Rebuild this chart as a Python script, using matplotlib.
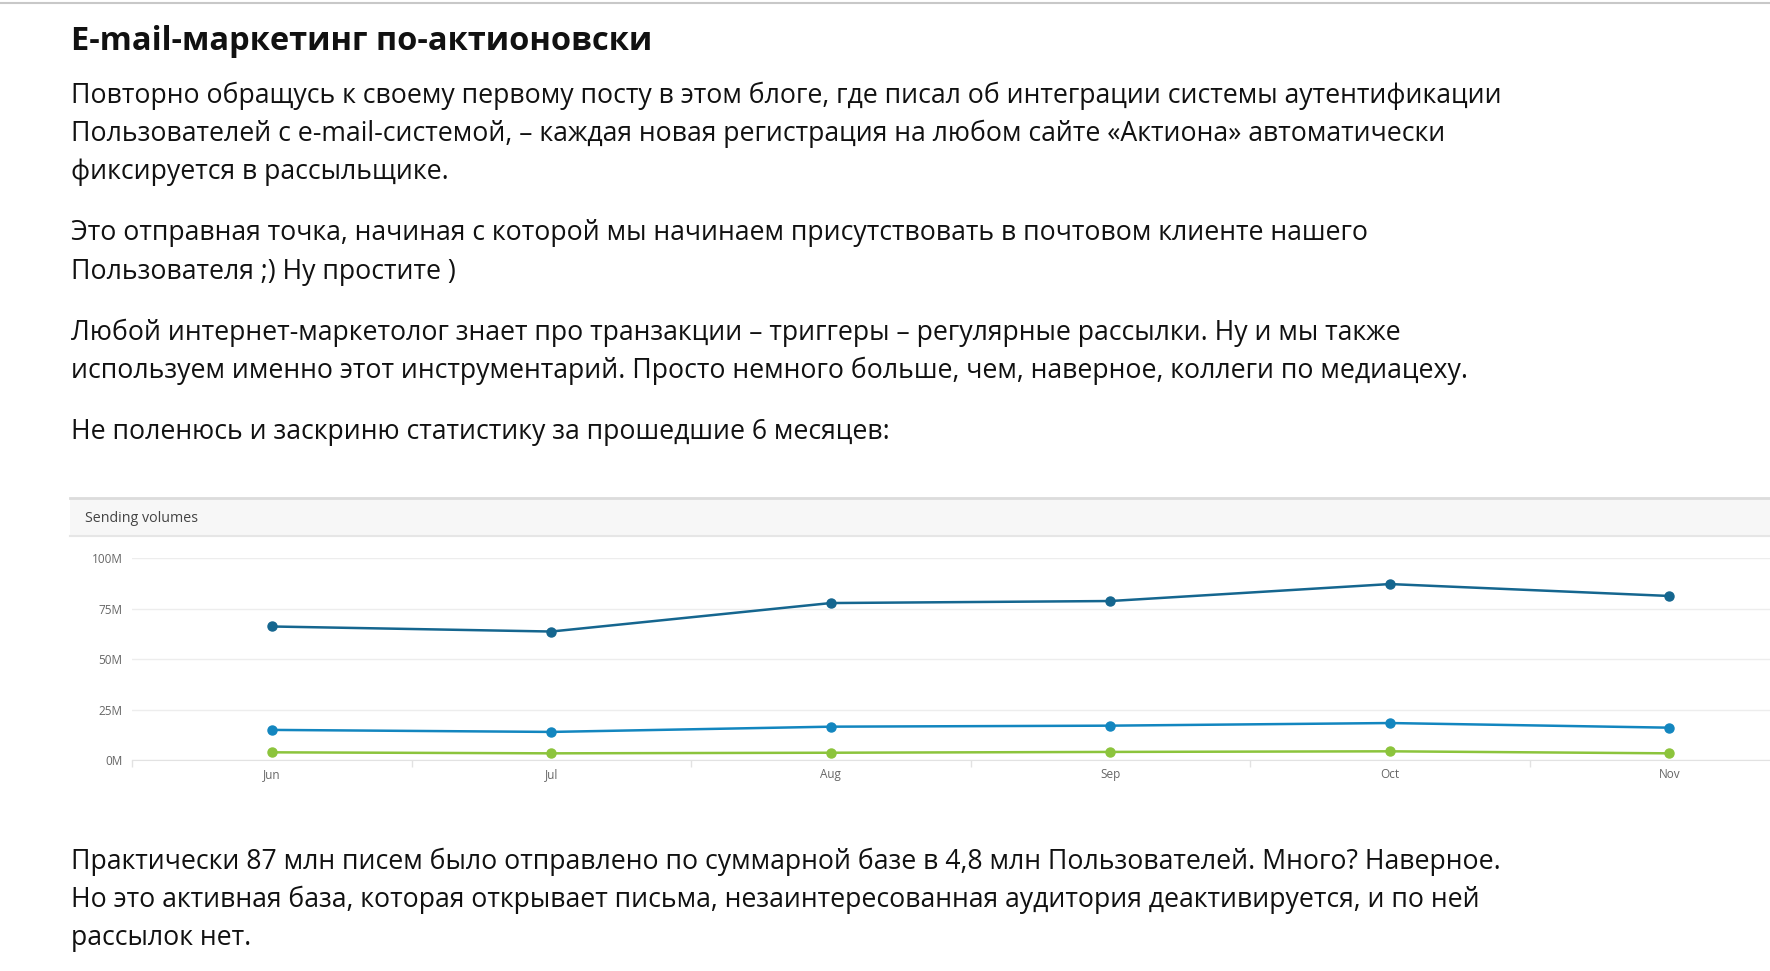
import matplotlib.pyplot as plt
from matplotlib.patches import Rectangle
import numpy as np

# data (millions of emails)
months = ['Jun', 'Jul', 'Aug', 'Sep', 'Oct', 'Nov']
total = [66.1, 63.6, 77.7, 78.7, 87.1, 81.2]
second = [14.9, 13.9, 16.5, 17.0, 18.3, 16.0]
third = [3.8, 3.3, 3.6, 4.0, 4.3, 3.3]
yticks = [0, 25, 50, 75, 100]
ytick_labels = ['0M', '25M', '50M', '75M', '100M']

title = 'E-mail-маркетинг по-актионовски'
para_top = [
    'Повторно обращусь к своему первому посту в этом блоге, где писал об интеграции системы аутентификации',
    'Пользователей с e-mail-системой, – каждая новая регистрация на любом сайте «Актиона» автоматически',
    'фиксируется в рассыльщике.',
    'Это отправная точка, начиная с которой мы начинаем присутствовать в почтовом клиенте нашего',
    'Пользователя ;) Ну простите )',
    'Любой интернет-маркетолог знает про транзакции – триггеры – регулярные рассылки. Ну и мы также',
    'используем именно этот инструментарий. Просто немного больше, чем, наверное, коллеги по медиацеху.',
    'Не поленюсь и заскриню статистику за прошедшие 6 месяцев:',
]
para_bottom = [
    'Практически 87 млн писем было отправлено по суммарной базе в 4,8 млн Пользователей. Много? Наверное.',
    'Но это активная база, которая открывает письма, незаинтересованная аудитория деактивируется, и по ней',
    'рассылок нет.',
]

plt.rcParams['font.family'] = ['Open Sans', 'Noto Sans', 'DejaVu Sans']

W, H = 1770, 971
fig = plt.figure(figsize=(W / 100, H / 100), dpi=100)


def fx(x):
    return x / W


def fy(y):
    return 1 - y / H


# thin grey line at the very top of the page
fig.add_artist(plt.Line2D([0, 1], [fy(3), fy(3)], color='#c8c8c8', lw=1.5))

fig.text(fx(71), fy(41), title, fontsize=23.5, fontweight='bold', color='#111111', va='center')

top_y = [96, 134, 172, 233, 272, 333, 371, 432]
for line, y in zip(para_top, top_y):
    fig.text(fx(71), fy(y), line, fontsize=19.2, color='#111111', va='center')

bottom_y = [862, 900, 938]
for line, y in zip(para_bottom, bottom_y):
    fig.text(fx(71), fy(y), line, fontsize=19.2, color='#111111', va='center')

# chart panel header
fig.add_artist(Rectangle((fx(70), fy(536)), 1 - fx(70), (536 - 498) / H,
                         transform=fig.transFigure, facecolor='#f7f7f7', edgecolor='none'))
fig.add_artist(plt.Line2D([fx(70), 1], [fy(498), fy(498)], color='#dcdcdc', lw=2))
fig.add_artist(plt.Line2D([fx(70), 1], [fy(536), fy(536)], color='#e6e6e6', lw=1.5))
fig.text(fx(85), fy(519), 'Sending volumes', fontsize=10.3, color='#444444', va='center')

ax = fig.add_axes([fx(132), fy(760), 1 - fx(132), (760 - 558) / H])
x = np.arange(len(months))
ax.plot(x, total, color='#15668f', lw=1.8, marker='o', ms=6.5, clip_on=False, zorder=4)
ax.plot(x, second, color='#1386bf', lw=1.8, marker='o', ms=6.5, clip_on=False, zorder=4)
ax.plot(x, third, color='#8cc43c', lw=1.8, marker='o', ms=6.5, clip_on=False, zorder=4)

ax.set_xlim(-0.5, 5.36)
ax.set_ylim(0, 100)
ax.set_yticks(yticks)
ax.set_yticklabels(ytick_labels)
ax.set_xticks(x)
ax.set_xticklabels(months)
ax.set_xticks(np.arange(-0.5, 5.5, 1), minor=True)
ax.tick_params(axis='y', length=0, pad=7, labelsize=8.5, labelcolor='#666666')
ax.tick_params(axis='x', which='major', length=0, pad=6, labelsize=8.5, labelcolor='#666666')
ax.tick_params(axis='x', which='minor', length=5, width=1, color='#e2e2e2')
ax.grid(axis='y', color='#ededed', lw=1)
for side in ['top', 'right', 'left']:
    ax.spines[side].set_visible(False)
ax.spines['bottom'].set_color('#e2e2e2')
ax.set_facecolor('none')

plt.savefig('out.png', dpi=100)
